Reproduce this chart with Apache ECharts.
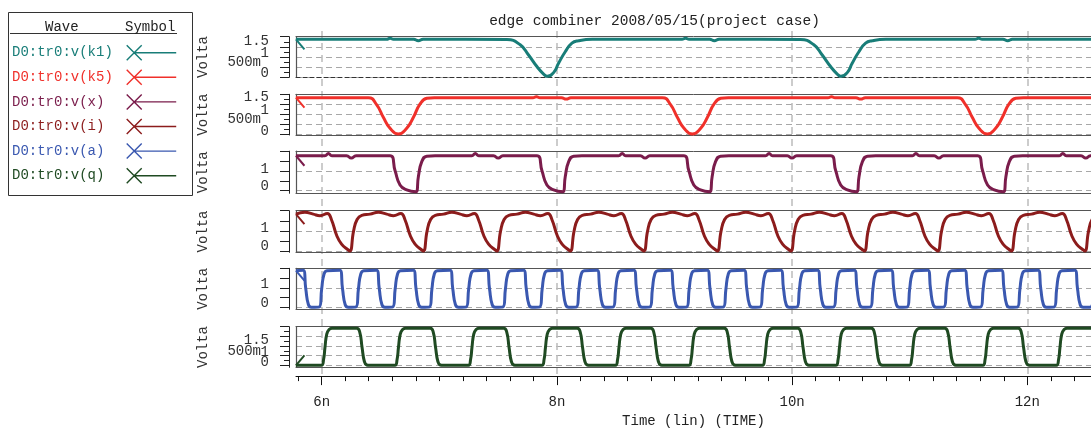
<!DOCTYPE html>
<html>
<head>
<meta charset="utf-8">
<script src="https://cdn.jsdelivr.net/npm/echarts@6/dist/echarts.min.js"></script>
<style>
  html, body { margin: 0; padding: 0; background: #ffffff; }
  #chart { width: 1091px; height: 433px; }
</style>
</head>
<body>
<div id="chart"></div>
<script>
// ---- texts ----
const chartTitle = 'edge combiner 2008/05/15(project case)';
const timeAxisName = 'Time (lin) (TIME)';
const voltAxisName = 'Volta';
const legendHeader = ['Wave', 'Symbol'];

// ---- time axis (ns) ----
const timeRange = [5.7815, 12.5417];
const timeMajorTicks = [6, 8, 10, 12];

// ---- waves ----
const waveNames = ['D0:tr0:v(k1)', 'D0:tr0:v(k5)', 'D0:tr0:v(x)', 'D0:tr0:v(i)', 'D0:tr0:v(a)', 'D0:tr0:v(q)'];
const waveColors = ['#187d78', '#f0302a', '#7a1c4b', '#8c1c1c', '#3a58b0', '#1f4a22'];

// [time ns, volts]
const k1 = [
  [5.781,1.87],[6.55,1.87],[6.581,1.92],[6.61,1.87],[6.782,1.87],[6.822,1.8],[6.862,1.87],
  [7.575,1.86],[7.688,1.6],[7.759,1.1],[7.830,0.53],[7.887,0.16],[7.918,0.05],[7.972,0.23],[8.014,0.69],[8.071,1.26],[8.128,1.68],[8.184,1.8],[8.301,1.87],
  [9.064,1.87],[9.094,1.92],[9.124,1.87],[9.299,1.87],[9.339,1.8],[9.379,1.87],
  [10.072,1.86],[10.185,1.6],[10.256,1.1],[10.327,0.53],[10.384,0.16],[10.415,0.05],[10.469,0.23],[10.511,0.69],[10.568,1.26],[10.625,1.68],[10.681,1.8],[10.798,1.87],
  [11.556,1.87],[11.586,1.92],[11.616,1.87],[11.793,1.87],[11.833,1.8],[11.873,1.87],[12.632,1.87]
];

const k5 = [
  [5.781,1.83],[6.397,1.83],[6.468,1.47],[6.524,0.85],[6.581,0.3],[6.652,0.01],[6.723,0.3],[6.780,0.85],[6.837,1.52],[6.894,1.8],[6.958,1.83],
  [7.796,1.83],[7.826,1.88],[7.856,1.83],[8.039,1.83],[8.079,1.76],[8.119,1.83],
  [8.897,1.83],[8.968,1.47],[9.024,0.85],[9.081,0.3],[9.152,0.01],[9.223,0.3],[9.280,0.85],[9.337,1.52],[9.394,1.8],[9.458,1.83],
  [10.305,1.83],[10.335,1.88],[10.365,1.83],[10.543,1.83],[10.583,1.76],[10.623,1.83],
  [11.405,1.83],[11.476,1.47],[11.532,0.85],[11.589,0.3],[11.660,0.01],[11.731,0.3],[11.788,0.85],[11.845,1.52],[11.902,1.8],[11.966,1.83],[12.632,1.83]
];

const vx = [
  [5.781,1.77],[6.027,1.77],[6.057,1.88],[6.087,1.77],[6.212,1.77],[6.252,1.65],[6.292,1.77],
  [6.581,1.77],[6.624,1.01],[6.666,0.29],[6.723,0.04],[6.802,-0.05],[6.822,0.71],[6.851,1.47],[6.893,1.75],[6.964,1.77],
  [7.276,1.77],[7.306,1.88],[7.336,1.77],[7.461,1.77],[7.501,1.65],[7.541,1.77],
  [7.830,1.77],[7.873,1.01],[7.915,0.29],[7.972,0.04],[8.051,-0.05],[8.071,0.71],[8.100,1.47],[8.142,1.75],[8.213,1.77],
  [8.525,1.77],[8.555,1.88],[8.585,1.77],[8.710,1.77],[8.750,1.65],[8.790,1.77],
  [9.079,1.77],[9.122,1.01],[9.164,0.29],[9.221,0.04],[9.300,-0.05],[9.320,0.71],[9.349,1.47],[9.391,1.75],[9.462,1.77],
  [9.774,1.77],[9.804,1.88],[9.834,1.77],[9.959,1.77],[9.999,1.65],[10.039,1.77],
  [10.328,1.77],[10.371,1.01],[10.413,0.29],[10.470,0.04],[10.549,-0.05],[10.569,0.71],[10.598,1.47],[10.640,1.75],[10.711,1.77],
  [11.023,1.77],[11.053,1.88],[11.083,1.77],[11.208,1.77],[11.248,1.65],[11.288,1.77],
  [11.577,1.77],[11.620,1.01],[11.662,0.29],[11.719,0.04],[11.798,-0.05],[11.818,0.71],[11.847,1.47],[11.889,1.75],[11.960,1.77],
  [12.272,1.77],[12.302,1.88],[12.332,1.77],[12.457,1.77],[12.497,1.65],[12.537,1.77],[12.632,1.77]
];

const vi = [
  [5.781,1.83],[5.857,1.92],[5.928,1.83],[5.985,1.75],[6.048,1.86],[6.084,1.54],[6.127,0.78],[6.169,0.34],[6.226,0.05],
  [6.241,0],[6.271,0.99],[6.301,1.56],[6.341,1.77],[6.411,1.83],[6.482,1.92],[6.553,1.83],[6.610,1.75],[6.673,1.86],[6.709,1.54],[6.752,0.78],[6.794,0.34],[6.851,0.05],
  [6.866,0],[6.896,0.99],[6.926,1.56],[6.966,1.77],[7.036,1.83],[7.107,1.92],[7.178,1.83],[7.235,1.75],[7.298,1.86],[7.334,1.54],[7.377,0.78],[7.419,0.34],[7.476,0.05],
  [7.491,0],[7.521,0.99],[7.551,1.56],[7.591,1.77],[7.661,1.83],[7.732,1.92],[7.803,1.83],[7.860,1.75],[7.923,1.86],[7.959,1.54],[8.002,0.78],[8.044,0.34],[8.101,0.05],
  [8.116,0],[8.146,0.99],[8.176,1.56],[8.216,1.77],[8.286,1.83],[8.357,1.92],[8.428,1.83],[8.485,1.75],[8.548,1.86],[8.584,1.54],[8.627,0.78],[8.669,0.34],[8.726,0.05],
  [8.741,0],[8.771,0.99],[8.801,1.56],[8.841,1.77],[8.911,1.83],[8.982,1.92],[9.053,1.83],[9.110,1.75],[9.173,1.86],[9.209,1.54],[9.252,0.78],[9.294,0.34],[9.351,0.05],
  [9.366,0],[9.396,0.99],[9.426,1.56],[9.466,1.77],[9.536,1.83],[9.607,1.92],[9.678,1.83],[9.735,1.75],[9.798,1.86],[9.834,1.54],[9.877,0.78],[9.919,0.34],[9.976,0.05],
  [9.991,0],[10.021,0.99],[10.051,1.56],[10.091,1.77],[10.161,1.83],[10.232,1.92],[10.303,1.83],[10.360,1.75],[10.423,1.86],[10.459,1.54],[10.502,0.78],[10.544,0.34],[10.601,0.05],
  [10.616,0],[10.646,0.99],[10.676,1.56],[10.716,1.77],[10.786,1.83],[10.857,1.92],[10.928,1.83],[10.985,1.75],[11.048,1.86],[11.084,1.54],[11.127,0.78],[11.169,0.34],[11.226,0.05],
  [11.241,0],[11.271,0.99],[11.301,1.56],[11.341,1.77],[11.411,1.83],[11.482,1.92],[11.553,1.83],[11.610,1.75],[11.673,1.86],[11.709,1.54],[11.752,0.78],[11.794,0.34],[11.851,0.05],
  [11.866,0],[11.896,0.99],[11.926,1.56],[11.966,1.77],[12.036,1.83],[12.107,1.92],[12.178,1.83],[12.235,1.75],[12.298,1.86],[12.334,1.54],[12.377,0.78],[12.419,0.34],[12.476,0.05],
  [12.491,0],[12.521,0.99],[12.551,1.56],[12.591,1.77],[12.632,1.81]
];

const va = [
  [5.781,1.88],[5.8425,1.9],[5.8645,0.95],[5.8875,0.13],[5.9125,0],
  [5.98,0.02],[6.0,0.95],[6.02,1.71],[6.045,1.87],[6.155,1.9],[6.177,0.95],[6.2,0.13],[6.225,0],
  [6.2925,0.02],[6.3125,0.95],[6.3325,1.71],[6.3575,1.87],[6.4675,1.9],[6.4895,0.95],[6.5125,0.13],[6.5375,0],
  [6.605,0.02],[6.625,0.95],[6.645,1.71],[6.67,1.87],[6.78,1.9],[6.802,0.95],[6.825,0.13],[6.85,0],
  [6.9175,0.02],[6.9375,0.95],[6.9575,1.71],[6.9825,1.87],[7.0925,1.9],[7.1145,0.95],[7.1375,0.13],[7.1625,0],
  [7.23,0.02],[7.25,0.95],[7.27,1.71],[7.295,1.87],[7.405,1.9],[7.427,0.95],[7.45,0.13],[7.475,0],
  [7.5425,0.02],[7.5625,0.95],[7.5825,1.71],[7.6075,1.87],[7.7175,1.9],[7.7395,0.95],[7.7625,0.13],[7.7875,0],
  [7.855,0.02],[7.875,0.95],[7.895,1.71],[7.92,1.87],[8.03,1.9],[8.052,0.95],[8.075,0.13],[8.1,0],
  [8.1675,0.02],[8.1875,0.95],[8.2075,1.71],[8.2325,1.87],[8.3425,1.9],[8.3645,0.95],[8.3875,0.13],[8.4125,0],
  [8.48,0.02],[8.5,0.95],[8.52,1.71],[8.545,1.87],[8.655,1.9],[8.677,0.95],[8.7,0.13],[8.725,0],
  [8.7925,0.02],[8.8125,0.95],[8.8325,1.71],[8.8575,1.87],[8.9675,1.9],[8.9895,0.95],[9.0125,0.13],[9.0375,0],
  [9.105,0.02],[9.125,0.95],[9.145,1.71],[9.17,1.87],[9.28,1.9],[9.302,0.95],[9.325,0.13],[9.35,0],
  [9.4175,0.02],[9.4375,0.95],[9.4575,1.71],[9.4825,1.87],[9.5925,1.9],[9.6145,0.95],[9.6375,0.13],[9.6625,0],
  [9.73,0.02],[9.75,0.95],[9.77,1.71],[9.795,1.87],[9.905,1.9],[9.927,0.95],[9.95,0.13],[9.975,0],
  [10.0425,0.02],[10.0625,0.95],[10.0825,1.71],[10.1075,1.87],[10.2175,1.9],[10.2395,0.95],[10.2625,0.13],[10.2875,0],
  [10.355,0.02],[10.375,0.95],[10.395,1.71],[10.42,1.87],[10.53,1.9],[10.552,0.95],[10.575,0.13],[10.6,0],
  [10.6675,0.02],[10.6875,0.95],[10.7075,1.71],[10.7325,1.87],[10.8425,1.9],[10.8645,0.95],[10.8875,0.13],[10.9125,0],
  [10.98,0.02],[11.0,0.95],[11.02,1.71],[11.045,1.87],[11.155,1.9],[11.177,0.95],[11.2,0.13],[11.225,0],
  [11.2925,0.02],[11.3125,0.95],[11.3325,1.71],[11.3575,1.87],[11.4675,1.9],[11.4895,0.95],[11.5125,0.13],[11.5375,0],
  [11.605,0.02],[11.625,0.95],[11.645,1.71],[11.67,1.87],[11.78,1.9],[11.802,0.95],[11.825,0.13],[11.85,0],
  [11.9175,0.02],[11.9375,0.95],[11.9575,1.71],[11.9825,1.87],[12.0925,1.9],[12.1145,0.95],[12.1375,0.13],[12.1625,0],
  [12.23,0.02],[12.25,0.95],[12.27,1.71],[12.295,1.87],[12.405,1.9],[12.427,0.95],[12.45,0.13],[12.475,0],
  [12.5425,0.02],[12.5625,0.95],[12.5825,1.71],[12.6075,1.87],[12.632,1.88]
];

const vq = [
  [5.781,0],
  [5.998,0],[6.016,0.3],[6.028,0.94],[6.043,1.62],[6.063,1.86],[6.088,1.92],[6.298,1.92],[6.323,1.73],[6.343,0.94],[6.363,0.2],[6.383,0.02],[6.408,0],
  [6.623,0],[6.641,0.3],[6.653,0.94],[6.668,1.62],[6.688,1.86],[6.713,1.92],[6.923,1.92],[6.948,1.73],[6.968,0.94],[6.988,0.2],[7.008,0.02],[7.033,0],
  [7.248,0],[7.266,0.3],[7.278,0.94],[7.293,1.62],[7.313,1.86],[7.338,1.92],[7.548,1.92],[7.573,1.73],[7.593,0.94],[7.613,0.2],[7.633,0.02],[7.658,0],
  [7.873,0],[7.891,0.3],[7.903,0.94],[7.918,1.62],[7.938,1.86],[7.963,1.92],[8.173,1.92],[8.198,1.73],[8.218,0.94],[8.238,0.2],[8.258,0.02],[8.283,0],
  [8.498,0],[8.516,0.3],[8.528,0.94],[8.543,1.62],[8.563,1.86],[8.588,1.92],[8.798,1.92],[8.823,1.73],[8.843,0.94],[8.863,0.2],[8.883,0.02],[8.908,0],
  [9.123,0],[9.141,0.3],[9.153,0.94],[9.168,1.62],[9.188,1.86],[9.213,1.92],[9.423,1.92],[9.448,1.73],[9.468,0.94],[9.488,0.2],[9.508,0.02],[9.533,0],
  [9.748,0],[9.766,0.3],[9.778,0.94],[9.793,1.62],[9.813,1.86],[9.838,1.92],[10.048,1.92],[10.073,1.73],[10.093,0.94],[10.113,0.2],[10.133,0.02],[10.158,0],
  [10.373,0],[10.391,0.3],[10.403,0.94],[10.418,1.62],[10.438,1.86],[10.463,1.92],[10.673,1.92],[10.698,1.73],[10.718,0.94],[10.738,0.2],[10.758,0.02],[10.783,0],
  [10.998,0],[11.016,0.3],[11.028,0.94],[11.043,1.62],[11.063,1.86],[11.088,1.92],[11.298,1.92],[11.323,1.73],[11.343,0.94],[11.363,0.2],[11.383,0.02],[11.408,0],
  [11.623,0],[11.641,0.3],[11.653,0.94],[11.668,1.62],[11.688,1.86],[11.713,1.92],[11.923,1.92],[11.948,1.73],[11.968,0.94],[11.988,0.2],[12.008,0.02],[12.033,0],
  [12.248,0],[12.266,0.3],[12.278,0.94],[12.293,1.62],[12.313,1.86],[12.338,1.92],[12.632,1.92]
];

const waveData = [k1, k5, vx, vi, va, vq];

// ---- volt axes, one per panel ----
const panelVoltMin = [0, -0.035, -0.13, -0.065, -0.1, -0.1];
const panelVoltMax = [2, 2, 2, 2, 2, 2];
const voltLabelValues = [[0, 0.5, 1, 1.5], [0, 0.5, 1, 1.5], [0, 1], [0, 1], [0, 1], [0, 0.5, 1, 1.5]];
const voltLabelTexts  = [['0', '500m', '1', '1.5'], ['0', '500m', '1', '1.5'], ['0', '1'], ['0', '1'], ['0', '1'], ['0', '500m', '1', '1.5']];
const voltGridValues  = [[0, 0.5, 1, 1.5], [0, 0.5, 1, 1.5], [0, 1], [0, 1], [0, 1], [0, 0.5, 1, 1.5]];
const voltMajorTicks  = [[0, 0.5, 1, 1.5, 2], [0, 0.5, 1, 1.5, 2], [0, 0.5, 1, 1.5, 2], [0, 0.5, 1, 1.5, 2], [0, 0.5, 1, 1.5, 2], [0, 0.5, 1, 1.5, 2]];
const voltMinorTicks  = [[0.25, 0.75, 1.25, 1.75], [0.25, 0.75, 1.25, 1.75], [], [], [], [0.25, 0.75, 1.25, 1.75]];

// ---- layout ----
const FONT = '"Liberation Mono", "DejaVu Sans Mono", monospace';
const PLOT_LEFT = 296;
const PLOT_WIDTH = 795;
const PANEL_TOP = [36.7, 94.3, 151.2, 210.7, 268.3, 326.7];
const PANEL_HEIGHT = [40.6, 40.7, 42.1, 41.6, 41.0, 40.6];
// vertical nudges of the volt labels (px, positive = up), same order as voltLabelValues
const LABEL_NUDGE = [[4, 5, 4, 6], [3, 5, 4, 7], [4, 2], [5, 2.5], [4.5, 3.5], [3, 4, -6, -4]];

const chart = echarts.init(document.getElementById('chart'), null, { renderer: 'canvas' });

// minor time ticks every 0.2 ns
const timeMinorTicks = [];
for (let k = 29; k * 0.2 <= timeRange[1]; k++) {
  const v = Math.round(k * 0.2 * 10) / 10;
  if (v >= timeRange[0]) timeMinorTicks.push(v);
}

const grids = [{ left: PLOT_LEFT, top: 31, width: PLOT_WIDTH, height: 348.3 }];
PANEL_TOP.forEach((t, i) => grids.push({ left: PLOT_LEFT, top: t, width: PLOT_WIDTH, height: PANEL_HEIGHT[i] }));

const xAxes = [
  {
    gridIndex: 0, type: 'value', min: timeRange[0], max: timeRange[1], position: 'bottom',
    name: timeAxisName, nameLocation: 'middle', nameGap: 37,
    nameTextStyle: { fontFamily: FONT, fontSize: 14, color: '#222' },
    axisLine: { show: true, onZero: false, lineStyle: { color: '#111', width: 1 } },
    axisTick: { show: true, length: 9, customValues: timeMajorTicks, lineStyle: { color: '#111' } },
    axisLabel: { show: true, customValues: timeMajorTicks, margin: 19, fontFamily: FONT, fontSize: 14, color: '#222',
                 showMinLabel: true, showMaxLabel: true, hideOverlap: false,
                 formatter: v => v + 'n' },
    splitLine: { show: true, lineStyle: { color: '#bcbcbc', width: 1.5, type: [7, 5] } }
  },
  {
    gridIndex: 0, type: 'value', min: timeRange[0], max: timeRange[1], position: 'bottom',
    axisLine: { show: false, onZero: false },
    axisTick: { show: true, length: 5, customValues: timeMinorTicks, lineStyle: { color: '#111' } },
    axisLabel: { show: false }, splitLine: { show: false }
  }
];

const yAxes = [{ gridIndex: 0, type: 'value', min: 0, max: 1, show: false }];
const series = [];
const legendData = [];

const armDown = 'path://M1.52,0 L10.02,10 L8.5,11.3 L0,1.3 Z';
const armUp = 'path://M1.52,11.3 L10.02,1.3 L8.5,0 L0,10 Z';

waveNames.forEach((name, i) => {
  const g = i + 1;
  const bottomLine = i === 0
    ? { color: '#333', width: 1, type: [4, 3] }
    : { color: '#555', width: 1 };
  const xIndex = xAxes.length;
  xAxes.push({
    gridIndex: g, type: 'value', min: timeRange[0], max: timeRange[1], position: 'bottom',
    axisLine: { show: true, onZero: false, lineStyle: bottomLine },
    axisTick: { show: false }, axisLabel: { show: false }, splitLine: { show: false }
  });
  xAxes.push({
    gridIndex: g, type: 'value', min: timeRange[0], max: timeRange[1], position: 'top',
    axisLine: { show: true, onZero: false, lineStyle: { color: '#555', width: 1 } },
    axisTick: { show: false }, axisLabel: { show: false }, splitLine: { show: false }
  });

  const yMin = panelVoltMin[i], yMax = panelVoltMax[i];
  const voltPerPx = (yMax - yMin) / PANEL_HEIGHT[i];
  const base = { gridIndex: g, type: 'value', min: yMin, max: yMax, position: 'left' };

  // main volt axis: line, long ticks, name
  const yIndex = yAxes.length;
  yAxes.push(Object.assign({}, base, {
    offset: 7,
    name: voltAxisName, nameLocation: 'middle', nameGap: 79,
    nameTextStyle: { fontFamily: FONT, fontSize: 14, color: '#333' },
    axisLine: { show: true, lineStyle: { color: '#222', width: 1 } },
    axisTick: { show: true, length: 9, customValues: voltMajorTicks[i], lineStyle: { color: '#222' } },
    axisLabel: { show: false },
    splitLine: { show: false }
  }));
  // short ticks
  if (voltMinorTicks[i].length) {
    yAxes.push(Object.assign({}, base, {
      offset: 7,
      axisLine: { show: false },
      axisTick: { show: true, length: 5, customValues: voltMinorTicks[i], lineStyle: { color: '#222' } },
      axisLabel: { show: false }, splitLine: { show: false }
    }));
  }
  // one label per axis; each label sits slightly off its level, as the plotter prints them
  voltLabelValues[i].forEach((v, j) => {
    const at = v + LABEL_NUDGE[i][j] * voltPerPx;
    const padRight = voltLabelTexts[i][j] === '500m' ? 8 : 0;
    yAxes.push(Object.assign({}, base, {
      offset: 7,
      axisLine: { show: false }, axisTick: { show: false }, splitLine: { show: false },
      axisLabel: {
        show: true, customValues: [at], margin: 20 + padRight,
        fontFamily: FONT, fontSize: 14, color: '#333',
        formatter: () => voltLabelTexts[i][j]
      }
    }));
  });
  // panel frame (left edge) and dashed level lines
  yAxes.push(Object.assign({}, base, {
    offset: 0,
    axisLine: { show: true, lineStyle: { color: '#555', width: 1.2 } },
    axisTick: { show: false, customValues: voltGridValues[i] },
    axisLabel: { show: false },
    splitLine: { show: true, lineStyle: { color: '#a8a8a8', width: 1, type: [6, 4] } }
  }));

  const data = waveData[i].map((p, k) => k === 0
    ? { value: p, symbol: i === 5 ? armUp : armDown, symbolSize: [10, 11.3], symbolOffset: [4.25, i === 5 ? -5 : 5] }
    : p);

  series.push({
    name, type: 'line', xAxisIndex: xIndex, yAxisIndex: yIndex,
    data, symbol: 'none', showSymbol: true, smooth: 0.5,
    clip: true, silent: true, z: 3,
    lineStyle: { color: waveColors[i], width: 3 },
    itemStyle: { color: waveColors[i] }
  });

  legendData.push({ name, textStyle: { color: waveColors[i] } });
});

const option = {
  animation: false,
  backgroundColor: '#ffffff',
  title: {
    text: chartTitle, left: 654.5, top: 14, textAlign: 'center', padding: 0,
    textStyle: { fontFamily: FONT, fontSize: 14.5, fontWeight: 'normal', color: '#222' }
  },
  legend: {
    orient: 'vertical', left: 12, top: 44.7, padding: 0,
    itemGap: 8.6, itemWidth: 50, itemHeight: 16, align: 'right',
    selectedMode: false,
    icon: 'path://M0,1L1,0L16,15L15,16ZM15,0L16,1L1,16L0,15ZM8,7.3L50,7.3L50,8.7L8,8.7Z',
    formatter: n => n.padEnd(13, ' '),
    textStyle: { fontFamily: FONT, fontSize: 14 },
    data: legendData
  },
  graphic: [
    { type: 'rect', shape: { x: 8.5, y: 12.5, width: 184, height: 183 },
      style: { fill: 'none', stroke: '#333', lineWidth: 1 }, silent: true },
    { type: 'line', shape: { x1: 10, y1: 33.5, x2: 177, y2: 33.5 },
      style: { stroke: '#333', lineWidth: 1 }, silent: true },
    { type: 'text', left: 45, top: 20, silent: true,
      style: { text: legendHeader[0], font: '14px ' + FONT, fill: '#222' } },
    { type: 'text', left: 125, top: 20, silent: true,
      style: { text: legendHeader[1], font: '14px ' + FONT, fill: '#222' } }
  ],
  grid: grids,
  xAxis: xAxes,
  yAxis: yAxes,
  series
};

chart.setOption(option);
</script>
</body>
</html>
